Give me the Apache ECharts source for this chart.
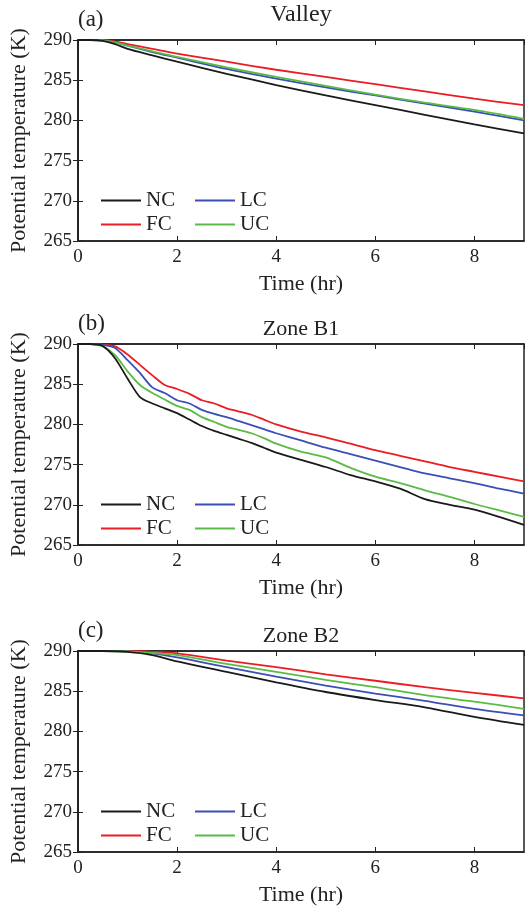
<!DOCTYPE html>
<html><head><meta charset="utf-8">
<script src="https://cdn.jsdelivr.net/npm/echarts@6/dist/echarts.min.js"></script>
<style>html,body{margin:0;padding:0;background:#fff}#c{width:525px;height:908px}</style>
</head><body><div id="c"></div>
<script>
// ---- data ----
var seriesNames = ['NC', 'FC', 'LC', 'UC'];
var panelTitles = ['Valley', 'Zone B1', 'Zone B2'];
var panelLetters = ['(a)', '(b)', '(c)'];
var xTicks = [0, 2, 4, 6, 8];
var yTicks = [265, 270, 275, 280, 285, 290];

var timeA = [0, 0.25, 0.5, 0.75, 1, 1.5, 2, 3, 4, 5, 6, 7, 8, 9];
var ncA = [290, 290, 289.9, 289.5, 288.9, 288.1, 287.3, 285.8, 284.4, 283.1, 281.9, 280.7, 279.5, 278.4];
var fcA = [290, 290, 290, 289.8, 289.5, 288.9, 288.3, 287.3, 286.3, 285.4, 284.5, 283.6, 282.7, 281.9];
var lcA = [290, 290, 289.95, 289.7, 289.3, 288.5, 287.8, 286.4, 285.2, 284.1, 283.1, 282.1, 281.1, 280.0];
var ucA = [290, 290, 289.95, 289.7, 289.3, 288.6, 287.9, 286.6, 285.4, 284.3, 283.2, 282.2, 281.3, 280.2];

var timeB = [0, 0.25, 0.5, 0.75, 1, 1.25, 1.5, 1.75, 2, 2.25, 2.5, 2.75, 3, 3.25, 3.5, 3.75, 4, 4.5, 5, 5.5, 6, 6.5, 7, 7.5, 8, 8.5, 9];
var ncB = [290, 290, 289.75, 288.2, 285.7, 283.4, 282.6, 282.0, 281.4, 280.6, 279.8, 279.2, 278.7, 278.2, 277.7, 277.1, 276.5, 275.6, 274.7, 273.7, 272.9, 272.0, 270.7, 270.0, 269.4, 268.5, 267.5];
var fcB = [290, 290, 289.9, 289.7, 288.7, 287.4, 286.1, 284.9, 284.4, 283.8, 283.0, 282.6, 282.0, 281.6, 281.2, 280.6, 280.0, 279.1, 278.4, 277.6, 276.8, 276.1, 275.4, 274.7, 274.1, 273.5, 272.9];
var lcB = [290, 290, 289.9, 289.5, 288.0, 286.4, 284.6, 283.9, 283.0, 282.6, 281.8, 281.3, 280.9, 280.4, 279.9, 279.4, 278.9, 278.0, 277.1, 276.3, 275.5, 274.7, 273.9, 273.3, 272.7, 272.0, 271.4];
var ucB = [290, 290, 289.7, 288.6, 286.6, 284.9, 283.9, 283.1, 282.3, 281.8, 280.9, 280.3, 279.7, 279.3, 278.9, 278.3, 277.6, 276.6, 275.9, 274.6, 273.5, 272.7, 271.8, 271.0, 270.1, 269.3, 268.5];

var timeC = [0, 0.5, 1, 1.5, 2, 3, 4, 5, 6, 7, 8, 9];
var ncC = [290, 290, 289.9, 289.5, 288.7, 287.4, 286.1, 284.9, 283.9, 283.0, 281.8, 280.8];
var fcC = [290, 290, 290, 289.9, 289.7, 288.8, 288.0, 287.1, 286.3, 285.5, 284.8, 284.1];
var lcC = [290, 290, 289.95, 289.7, 289.2, 288.0, 286.8, 285.7, 284.7, 283.8, 282.8, 282.0];
var ucC = [290, 290, 289.95, 289.75, 289.5, 288.4, 287.4, 286.4, 285.5, 284.5, 283.7, 282.8];

// ---- build ----
var colors = {NC: '#1a1a1a', FC: '#ec1c24', LC: '#3c4fb4', UC: '#5cbb46'};
var panels = [
  {t: timeA, v: {NC: ncA, FC: fcA, LC: lcA, UC: ucA}, top: 40, smooth: 0.3},
  {t: timeB, v: {NC: ncB, FC: fcB, LC: lcB, UC: ucB}, top: 344, smooth: 0.25},
  {t: timeC, v: {NC: ncC, FC: fcC, LC: lcC, UC: ucC}, top: 651, smooth: 0.3}
];
var FONT = 'Liberation Serif';
var TXT = '#222';
var H = 201;
var grids = [], xAxes = [], yAxes = [], series = [], legends = [], graphics = [];
panels.forEach(function (p, i) {
  grids.push({left: 78, right: 1, top: p.top, height: H, show: true, borderColor: '#222', borderWidth: 1.5, backgroundColor: 'transparent'});
  var xBase = {type: 'value', gridIndex: i, min: 0, max: 9, interval: 2,
    axisLine: {show: true, lineStyle: {color: '#222', width: 1.5}},
    axisTick: {show: true, inside: true, length: 5, lineStyle: {color: '#222', width: 1}},
    splitLine: {show: false}};
  xAxes.push(Object.assign({}, xBase, {position: 'bottom',
    name: 'Time (hr)', nameLocation: 'middle', nameGap: 32,
    nameTextStyle: {fontFamily: FONT, fontSize: 22, color: TXT},
    axisLabel: {fontFamily: FONT, fontSize: 19, color: TXT, margin: 7, showMaxLabel: false,
      formatter: function (v) { return xTicks.indexOf(v) >= 0 ? String(v) : ''; }}}));
  xAxes.push(Object.assign({}, xBase, {position: 'top', axisLabel: {show: false}}));
  var yBase = {type: 'value', gridIndex: i, min: 265, max: 290, interval: 5,
    axisLine: {show: true, lineStyle: {color: '#222', width: 1.5}},
    axisTick: {show: true, inside: true, length: 5, lineStyle: {color: '#222', width: 1}},
    splitLine: {show: false}};
  yAxes.push(Object.assign({}, yBase, {position: 'left',
    name: 'Potential temperature (K)', nameLocation: 'middle', nameGap: 48,
    nameTextStyle: {fontFamily: FONT, fontSize: 22, color: TXT},
    axisLabel: {fontFamily: FONT, fontSize: 19, color: TXT, margin: 6,
      formatter: function (v) { return yTicks.indexOf(v) >= 0 ? String(v) : ''; }}}));
  yAxes.push(Object.assign({}, yBase, {position: 'right', axisLabel: {show: false}}));
  seriesNames.forEach(function (n) {
    series.push({type: 'line', name: n, xAxisIndex: i * 2, yAxisIndex: i * 2,
      data: p.t.map(function (t, k) { return [t, p.v[n][k]]; }),
      symbol: 'none', smooth: p.smooth, color: colors[n],
      lineStyle: {color: colors[n], width: 1.8}, z: n === 'NC' ? 3 : 2});
  });
  var legTop = p.top + 150;
  var legCommon = {orient: 'vertical', top: legTop, padding: 0, itemGap: 3,
    icon: 'rect', itemWidth: 40, itemHeight: 2,
    textStyle: {fontFamily: FONT, fontSize: 21, color: TXT}, selectedMode: false};
  legends.push(Object.assign({}, legCommon, {left: 101, data: ['NC', 'FC']}));
  legends.push(Object.assign({}, legCommon, {left: 195, data: ['LC', 'UC']}));
  graphics.push({type: 'text', x: 78, y: p.top - 20,
    style: {text: panelLetters[i], font: '23px "' + FONT + '"', fill: TXT,
      textAlign: 'left', textVerticalAlign: 'middle'}});
  graphics.push({type: 'text', x: 301, y: p.top - 15 - (i === 0 ? 10 : 0),
    style: {text: panelTitles[i], font: (i === 0 ? 24 : 22) + 'px "' + FONT + '"', fill: TXT,
      textAlign: 'center', textVerticalAlign: 'middle'}});
});
var chart = echarts.init(document.getElementById('c'));
chart.setOption({
  animation: false,
  grid: grids, xAxis: xAxes, yAxis: yAxes, series: series, legend: legends, graphic: graphics
});
</script></body></html>
